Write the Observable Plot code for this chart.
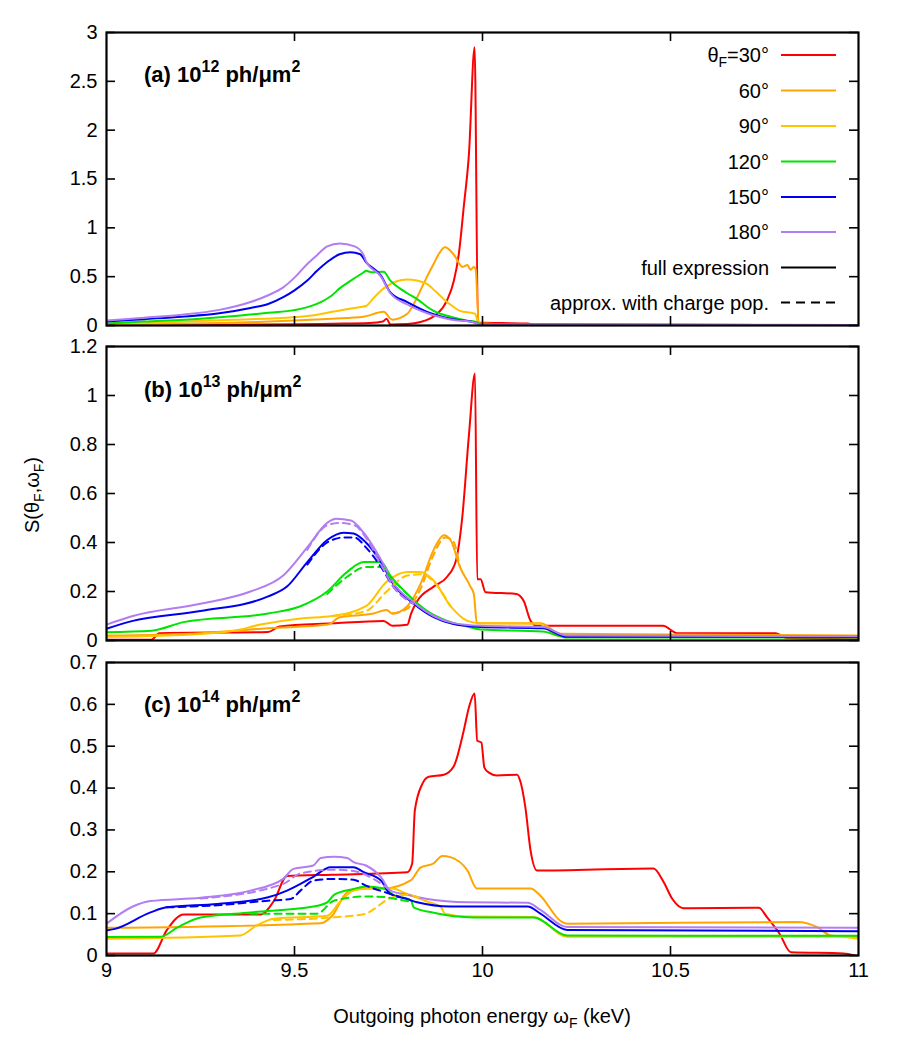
<!DOCTYPE html>
<html><head><meta charset="utf-8">
<script src="https://cdn.jsdelivr.net/npm/d3@7"></script>
<script src="https://cdn.jsdelivr.net/npm/@observablehq/plot@0.6"></script>
<style>
body{margin:0;background:#fff;}
#chart{position:relative;width:900px;height:1050px;font-family:"Liberation Sans",Arial,Helvetica,sans-serif;background:#fff;}
#chart > svg{position:absolute;left:0;}
</style></head><body><div id="chart"></div>
<script>
// ---- data: [energy keV, S] pairs ----
// panel (a) 10^12 ph/um^2
const a30 = [[9,0.005],[9.3,0.008],[9.5,0.012],[9.6,0.018],[9.7,0.025],[9.735,0.04],[9.745,0.07],[9.755,0.01],[9.8,0.015],[9.835,0.035],[9.86,0.07],[9.88,0.12],[9.906,0.26],[9.924,0.46],[9.937,0.73],[9.95,1.21],[9.964,1.76],[9.979,2.85],[9.988,0.03],[10.05,0.025],[10.12,0.02],[10.14,0.003],[11,0.002]];
const a60 = [[9,0.008],[9.15,0.015],[9.3,0.025],[9.4,0.035],[9.5,0.05],[9.6,0.07],[9.683,0.09],[9.737,0.14],[9.76,0.06],[9.8,0.12],[9.82,0.24],[9.835,0.36],[9.85,0.48],[9.87,0.63],[9.885,0.74],[9.9,0.8],[9.923,0.73],[9.947,0.6],[9.96,0.62],[9.968,0.57],[9.977,0.6],[9.982,0.57],[9.99,0.02],[10.1,0.01],[11,0.003]];
const a90 = [[9,0.01],[9.15,0.03],[9.34,0.06],[9.45,0.075],[9.516,0.09],[9.56,0.11],[9.6,0.14],[9.675,0.19],[9.69,0.2],[9.71,0.28],[9.737,0.38],[9.77,0.45],[9.8,0.47],[9.85,0.43],[9.875,0.35],[9.897,0.27],[9.92,0.2],[9.94,0.15],[9.98,0.12],[9.99,0.02],[10.1,0.01],[11,0.004]];
const a120 = [[9,0.02],[9.1,0.04],[9.25,0.07],[9.35,0.1],[9.43,0.13],[9.516,0.17],[9.57,0.24],[9.6,0.31],[9.62,0.38],[9.65,0.46],[9.684,0.545],[9.69,0.56],[9.705,0.545],[9.737,0.55],[9.755,0.46],[9.78,0.38],[9.8,0.33],[9.83,0.26],[9.85,0.2],[9.87,0.15],[9.915,0.09],[9.96,0.05],[9.985,0.035],[9.995,0.01],[11,0.005]];
const a150 = [[9,0.04],[9.1,0.065],[9.2,0.09],[9.3,0.125],[9.383,0.18],[9.43,0.22],[9.47,0.29],[9.5,0.36],[9.534,0.46],[9.56,0.56],[9.587,0.65],[9.62,0.73],[9.649,0.75],[9.675,0.73],[9.69,0.65],[9.73,0.51],[9.755,0.34],[9.8,0.24],[9.853,0.14],[9.915,0.07],[9.98,0.03],[9.995,0.01],[11,0.005]];
const a180 = [[9,0.05],[9.1,0.08],[9.2,0.11],[9.3,0.16],[9.383,0.24],[9.43,0.31],[9.47,0.39],[9.5,0.49],[9.534,0.63],[9.56,0.72],[9.587,0.81],[9.62,0.84],[9.66,0.81],[9.684,0.72],[9.69,0.66],[9.73,0.5],[9.755,0.33],[9.8,0.215],[9.853,0.125],[9.915,0.062],[9.98,0.031],[9.995,0.011],[11,0.006]];

// panel (b) 10^13 ph/um^2
const b30 = [[9,0.003],[9.12,0.003],[9.14,0.03],[9.43,0.035],[9.46,0.057],[9.6,0.07],[9.737,0.08],[9.76,0.06],[9.8,0.064],[9.81,0.11],[9.826,0.16],[9.87,0.22],[9.906,0.26],[9.93,0.33],[9.946,0.5],[9.964,0.84],[9.98,1.09],[9.986,0.25],[9.995,0.25],[10.008,0.197],[10.09,0.19],[10.11,0.16],[10.128,0.08],[10.145,0.06],[10.48,0.06],[10.518,0.03],[10.78,0.03],[10.81,0.01],[11,0.005]];
const b60 = [[9,0.02],[9.25,0.03],[9.43,0.05],[9.59,0.065],[9.62,0.095],[9.71,0.11],[9.745,0.125],[9.76,0.11],[9.8,0.14],[9.835,0.23],[9.87,0.37],[9.897,0.43],[9.915,0.41],[9.94,0.3],[9.968,0.22],[9.977,0.19],[9.985,0.07],[10.154,0.07],[10.207,0.028],[10.5,0.025],[11,0.02]];
const b90 = [[9,0.015],[9.25,0.027],[9.34,0.04],[9.41,0.065],[9.516,0.09],[9.6,0.1],[9.69,0.14],[9.745,0.24],[9.8,0.28],[9.835,0.28],[9.87,0.245],[9.915,0.14],[9.96,0.08],[9.995,0.07],[10.15,0.068],[10.2,0.02],[11,0.015]];
const b120 = [[9,0.034],[9.12,0.04],[9.205,0.075],[9.43,0.11],[9.516,0.14],[9.587,0.2],[9.64,0.28],[9.684,0.32],[9.73,0.32],[9.755,0.265],[9.8,0.19],[9.853,0.12],[9.906,0.08],[9.96,0.057],[9.995,0.045],[10.16,0.037],[10.225,0.012],[11,0.012]];
const b150 = [[9,0.048],[9.07,0.08],[9.25,0.12],[9.43,0.18],[9.48,0.22],[9.534,0.32],[9.587,0.41],[9.63,0.44],[9.657,0.437],[9.69,0.4],[9.73,0.32],[9.763,0.23],[9.817,0.15],[9.87,0.095],[9.92,0.068],[9.995,0.055],[10.16,0.05],[10.225,0.015],[11,0.015]];
const b180 = [[9,0.065],[9.07,0.1],[9.25,0.15],[9.383,0.2],[9.47,0.265],[9.534,0.38],[9.587,0.48],[9.61,0.497],[9.65,0.49],[9.684,0.44],[9.73,0.33],[9.763,0.235],[9.817,0.155],[9.87,0.1],[9.92,0.072],[9.995,0.06],[10.16,0.055],[10.225,0.02],[11,0.018]];
// approx. with charge pop. (b), where it departs from the full expression
const bd60 = [[9.76,0.11],[9.8,0.13],[9.835,0.21],[9.87,0.35],[9.9,0.42],[9.92,0.41],[9.94,0.3]];
const bd90 = [[9.6,0.1],[9.69,0.12],[9.745,0.2],[9.8,0.265],[9.84,0.27],[9.87,0.24],[9.915,0.14]];
const bd120 = [[9.587,0.19],[9.64,0.26],[9.69,0.3],[9.73,0.3],[9.76,0.25],[9.8,0.19]];
const bd150 = [[9.534,0.31],[9.587,0.4],[9.63,0.42],[9.66,0.42],[9.69,0.38],[9.73,0.3],[9.763,0.22],[9.817,0.15]];
const bd180 = [[9.534,0.37],[9.587,0.47],[9.62,0.48],[9.66,0.47],[9.69,0.42],[9.73,0.31],[9.763,0.22],[9.817,0.15]];

// panel (c) 10^14 ph/um^2
const c30 = [[9,0.005],[9.125,0.005],[9.16,0.06],[9.205,0.098],[9.41,0.098],[9.445,0.13],[9.48,0.19],[9.6,0.193],[9.8,0.199],[9.813,0.22],[9.82,0.346],[9.84,0.41],[9.857,0.427],[9.897,0.432],[9.924,0.453],[9.95,0.537],[9.964,0.593],[9.979,0.626],[9.986,0.513],[9.997,0.509],[10.005,0.449],[10.017,0.437],[10.039,0.43],[10.092,0.432],[10.1,0.418],[10.114,0.354],[10.128,0.25],[10.145,0.203],[10.455,0.208],[10.482,0.175],[10.505,0.135],[10.535,0.113],[10.735,0.114],[10.757,0.091],[10.79,0.052],[10.82,0.008],[10.96,0.005],[10.99,0.0]];
const c60 = [[9,0.066],[9.57,0.077],[9.6,0.095],[9.64,0.151],[9.675,0.16],[9.737,0.16],[9.81,0.18],[9.835,0.21],[9.87,0.22],[9.893,0.238],[9.915,0.235],[9.96,0.203],[9.985,0.16],[10.128,0.16],[10.154,0.143],[10.207,0.083],[10.225,0.076],[10.837,0.08],[10.89,0.068],[10.926,0.048],[11,0.044]];
const c90 = [[9,0.04],[9.356,0.048],[9.4,0.072],[9.445,0.088],[9.587,0.095],[9.62,0.127],[9.657,0.155],[9.7,0.16],[9.76,0.16],[9.8,0.147],[9.85,0.13],[9.89,0.115],[9.9,0.1],[9.96,0.093],[10.136,0.092],[10.225,0.045],[10.95,0.045],[11,0.04]];
const c120 = [[9,0.044],[9.144,0.045],[9.19,0.068],[9.25,0.091],[9.383,0.103],[9.55,0.117],[9.587,0.127],[9.605,0.145],[9.657,0.159],[9.69,0.165],[9.737,0.16],[9.763,0.145],[9.81,0.131],[9.817,0.115],[9.87,0.102],[9.977,0.091],[10.136,0.091],[10.225,0.048],[11,0.047]];
const c150 = [[9,0.06],[9.02,0.063],[9.117,0.103],[9.16,0.115],[9.295,0.123],[9.43,0.139],[9.48,0.155],[9.516,0.171],[9.55,0.188],[9.596,0.211],[9.657,0.211],[9.684,0.199],[9.73,0.179],[9.755,0.147],[9.8,0.135],[9.826,0.127],[9.915,0.117],[10.12,0.117],[10.154,0.1],[10.225,0.061],[11,0.058]];
const c180 = [[9,0.076],[9.07,0.117],[9.117,0.13],[9.25,0.138],[9.383,0.155],[9.47,0.183],[9.497,0.207],[9.55,0.215],[9.57,0.233],[9.605,0.236],[9.64,0.233],[9.657,0.223],[9.69,0.215],[9.73,0.187],[9.755,0.155],[9.8,0.145],[9.853,0.135],[9.96,0.127],[10.12,0.126],[10.154,0.109],[10.225,0.068],[11,0.066]];
const cd90 = [[9.445,0.085],[9.587,0.09],[9.69,0.1],[9.71,0.11],[9.75,0.135],[9.8,0.145],[9.85,0.13]];
const cd120 = [[9.383,0.1],[9.56,0.1],[9.605,0.131],[9.69,0.141],[9.737,0.14],[9.763,0.136],[9.81,0.128]];
const cd150 = [[9.16,0.115],[9.295,0.12],[9.43,0.131],[9.49,0.135],[9.516,0.155],[9.55,0.179],[9.605,0.183],[9.657,0.181],[9.69,0.167],[9.745,0.15],[9.78,0.14]];
const cd180 = [[9.25,0.136],[9.47,0.171],[9.516,0.196],[9.605,0.205],[9.657,0.202],[9.71,0.183],[9.755,0.155]];

// ---- labels, ticks ----
const angleLabels = ["30°","60°","90°","120°","150°","180°"];
const colors = ["#ff0000","#ffa500","#ffc400","#00e400","#0000f0","#b27cf2"];
const xTicks = [9, 9.5, 10, 10.5, 11];
const xInnerTicks = [9.5, 10, 10.5];
const yTicksA = [0, 0.5, 1, 1.5, 2, 2.5, 3];
const yTicksB = [0, 0.2, 0.4, 0.6, 0.8, 1, 1.2];
const yTicksC = [0, 0.1, 0.2, 0.3, 0.4, 0.5, 0.6, 0.7];

const ML = 106, MR = 42, WIDTH = 900;
const FONT = "'Liberation Sans', Arial, Helvetica, sans-serif";
const chart = document.getElementById("chart");

function panel({solid, dashed, yDomain, yTicks, top, height, mt, mb, xAxis}) {
  const W = WIDTH - ML - MR, H = height - mt - mb;
  const acc = {x: d => d[0], y: d => d[1], curve: "monotone-x", strokeLinejoin: "round"};
  const marks = [];
  solid.forEach((s, i) => marks.push(Plot.line(s, {...acc, stroke: colors[i], strokeWidth: 2, clip: true})));
  dashed.forEach(([s, i]) => marks.push(Plot.line(s, {...acc, stroke: colors[i], strokeWidth: 2, strokeDasharray: "7,5", clip: true})));
  marks.push(Plot.tickY(yTicks, {y: d => d, insetRight: W - 9, stroke: "black", strokeWidth: 1.6}));
  marks.push(Plot.tickY(yTicks, {y: d => d, insetLeft: W - 9, stroke: "black", strokeWidth: 1.6}));
  marks.push(Plot.tickX(xInnerTicks, {x: d => d, insetBottom: H - 9, stroke: "black", strokeWidth: 1.6}));
  marks.push(Plot.tickX(xInnerTicks, {x: d => d, insetTop: H - 9, stroke: "black", strokeWidth: 1.6}));
  marks.push(Plot.axisY(yTicks, {tickSize: 0, tickPadding: 9, fontSize: 20, fill: "black", tickFormat: d => String(d), label: null}));
  if (xAxis) marks.push(Plot.axisX(xTicks, {tickSize: 0, tickPadding: 7, fontSize: 20, fill: "black", tickFormat: d => String(d), label: null}));
  marks.push(Plot.frame({stroke: "black", strokeWidth: 2.2}));
  const svg = Plot.plot({
    width: WIDTH, height, marginLeft: ML, marginRight: MR, marginTop: mt, marginBottom: mb,
    style: {fontFamily: FONT, fontSize: "20px", color: "black", background: "transparent", overflow: "visible"},
    x: {domain: [9, 11], axis: xAxis ? undefined : null},
    y: {domain: yDomain},
    marks
  });
  svg.style.top = top + "px";
  chart.appendChild(svg);
}

panel({solid: [a30, a60, a90, a120, a150, a180], dashed: [], yDomain: [0, 3], yTicks: yTicksA, top: 0, height: 335, mt: 32, mb: 10, xAxis: false});
panel({solid: [b30, b60, b90, b120, b150, b180], dashed: [[bd60,1],[bd90,2],[bd120,3],[bd150,4],[bd180,5]], yDomain: [0, 1.2], yTicks: yTicksB, top: 335, height: 315, mt: 11, mb: 10, xAxis: false});
panel({solid: [c30, c60, c90, c120, c150, c180], dashed: [[cd90,2],[cd120,3],[cd150,4],[cd180,5]], yDomain: [0, 0.7], yTicks: yTicksC, top: 650, height: 400, mt: 12, mb: 95, xAxis: true});

// ---- overlay: legend, panel labels, axis titles ----
const ov = d3.create("svg").attr("width", 900).attr("height", 1050)
  .style("top", "0px").style("pointer-events", "none")
  .attr("font-family", FONT).attr("font-size", 20).attr("fill", "black");

const rowY = [55, 90.5, 126, 161.5, 197, 232, 267.5, 302.5];
angleLabels.forEach((lab, i) => {
  const t = ov.append("text").attr("x", 769).attr("y", rowY[i] + 7).attr("text-anchor", "end");
  if (i === 0) {
    t.append("tspan").text("θ");
    t.append("tspan").attr("dy", 5).attr("font-size", 14).text("F");
    t.append("tspan").attr("dy", -5).text("=" + lab);
  } else t.text(lab);
  ov.append("line").attr("x1", 781).attr("x2", 836).attr("y1", rowY[i]).attr("y2", rowY[i]).attr("stroke", colors[i]).attr("stroke-width", 2);
});
ov.append("text").attr("x", 769).attr("y", rowY[6] + 7).attr("text-anchor", "end").text("full expression");
ov.append("line").attr("x1", 781).attr("x2", 836).attr("y1", rowY[6]).attr("y2", rowY[6]).attr("stroke", "black").attr("stroke-width", 2);
ov.append("text").attr("x", 769).attr("y", rowY[7] + 7).attr("text-anchor", "end").text("approx. with charge pop.");
ov.append("line").attr("x1", 781).attr("x2", 836).attr("y1", rowY[7]).attr("y2", rowY[7]).attr("stroke", "black").attr("stroke-width", 2).attr("stroke-dasharray", "9,6");

const panelLabels = [["(a)", "12", 82], ["(b)", "13", 397], ["(c)", "14", 712]];
panelLabels.forEach(([p, e, y]) => {
  const t = ov.append("text").attr("x", 144).attr("y", y).attr("font-weight", "bold").attr("font-size", 22);
  t.append("tspan").text(p + " 10");
  t.append("tspan").attr("dy", -10).attr("font-size", 16).text(e);
  t.append("tspan").attr("dy", 10).text(" ph/μm");
  t.append("tspan").attr("dy", -10).attr("font-size", 16).text("2");
});

const yt = ov.append("text").attr("transform", "translate(39,495) rotate(-90)").attr("text-anchor", "middle");
yt.append("tspan").text("S(θ");
yt.append("tspan").attr("dy", 5).attr("font-size", 14).text("F");
yt.append("tspan").attr("dy", -5).text(",ω");
yt.append("tspan").attr("dy", 5).attr("font-size", 14).text("F");
yt.append("tspan").attr("dy", -5).text(")");

const xt = ov.append("text").attr("x", 482).attr("y", 1023).attr("text-anchor", "middle");
xt.append("tspan").text("Outgoing photon energy ω");
xt.append("tspan").attr("dy", 5).attr("font-size", 14).text("F");
xt.append("tspan").attr("dy", -5).text(" (keV)");

chart.appendChild(ov.node());
</script></body></html>
